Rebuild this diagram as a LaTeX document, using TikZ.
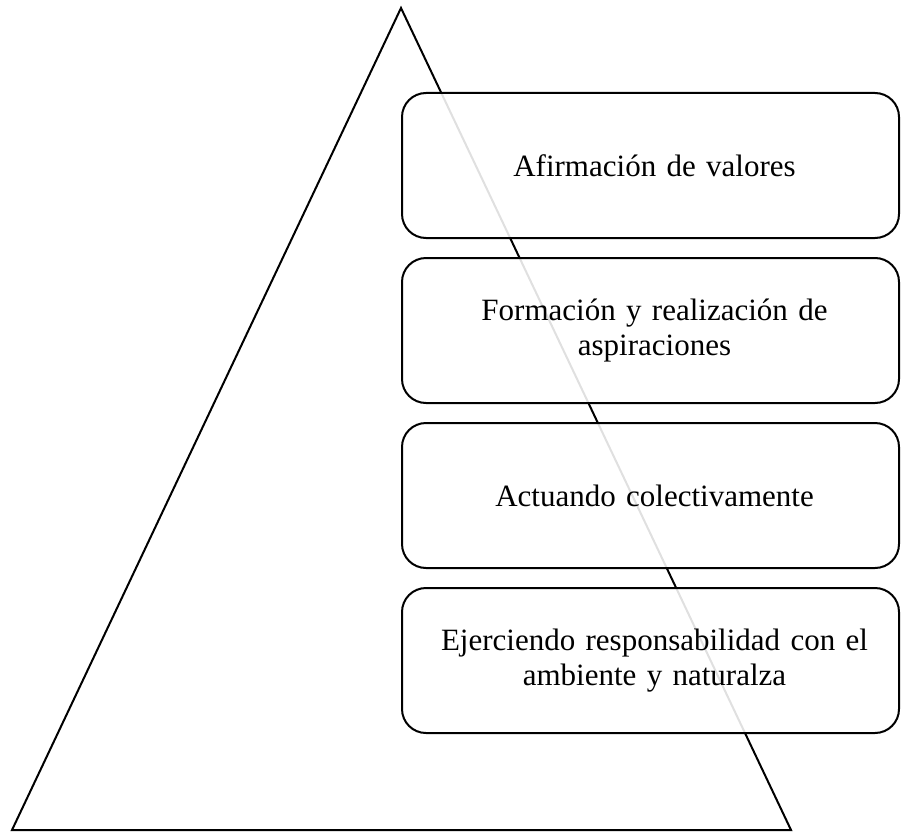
\documentclass[tikz,border=0pt]{standalone}
\usepackage{fontspec}
\setmainfont{Liberation Serif}
\begin{document}
\begin{tikzpicture}[x=1pt,y=-1pt,
  tri/.style={draw=black,line width=2pt,line join=miter},
  lbox/.style={draw=black,line width=2pt,rounded corners=24pt,fill=white,fill opacity=0.88,text opacity=1,
    minimum width=497pt,minimum height=145pt,text width=485pt,align=center,
    font=\fontsize{31}{35}\selectfont,anchor=north west,inner sep=0pt}]
\useasboundingbox (0,0) rectangle (901,832);
\coordinate (apex) at (401,8);
\coordinate (bl) at (12,830);
\coordinate (br) at (791,830);
\draw[tri] (bl) -- (apex) -- (br) -- cycle;
\node[lbox] (b1) at (401,92) {\hspace*{8pt}Afirmación de valores};
\node[lbox] (b2) at (401,257) {\hspace*{8pt}Formación y realización de\\\hspace*{8pt}aspiraciones};
\node[lbox] (b3) at (401,422) {\hspace*{8pt}Actuando colectivamente};
\node[lbox] (b4) at (401,587) {\hspace*{8pt}Ejerciendo responsabilidad con el\\\hspace*{8pt}ambiente y naturalza};
\end{tikzpicture}
\end{document}
